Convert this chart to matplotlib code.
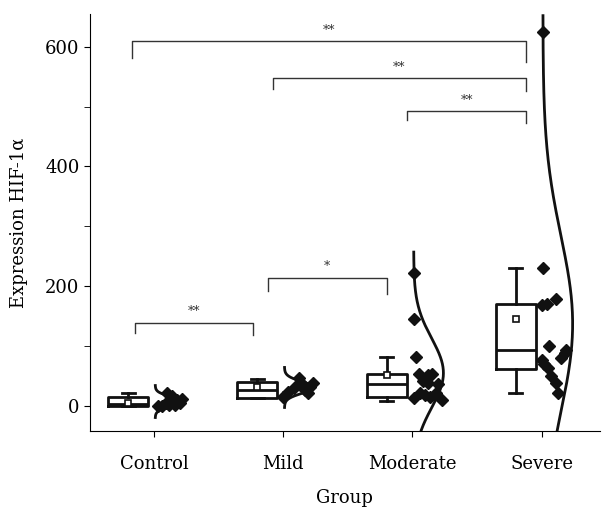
import numpy as np
import matplotlib
matplotlib.use('Agg')
import matplotlib.pyplot as plt

# Datos
groups = ['Control', 'Mild', 'Moderate', 'Severe']

control_vals = [0, 5, 22, 17, 10, 5, 2, 0, 12, 1]
mild_vals = [15, 23, 30, 47, 35, 27, 32, 22, 40, 38]
moderate_vals = [222, 146, 82, 53, 52, 53, 42, 38, 37, 13, 22, 18, 15, 22, 10]
severe_vals = [624, 231, 169, 171, 179, 100, 77, 70, 63, 50, 38, 22, 80, 89, 94]

# desplazamiento horizontal de cada punto (jitter)
control_jit = [0.03, 0.09, 0.10, 0.14, 0.18, 0.20, 0.16, 0.06, 0.22, 0.12]
mild_jit = [0.00, 0.04, 0.08, 0.12, 0.15, 0.17, 0.21, 0.19, 0.13, 0.23]
moderate_jit = [0.01, 0.01, 0.03, 0.05, 0.12, 0.15, 0.08, 0.12, 0.20, 0.01, 0.06, 0.10, 0.14, 0.18, 0.23]
severe_jit = [0.01, 0.01, 0.00, 0.04, 0.11, 0.06, 0.00, 0.02, 0.05, 0.07, 0.11, 0.13, 0.15, 0.18, 0.19]

# estadisticos de las cajas
box_q1 = [0, 13, 15, 62]
box_med = [3, 27, 37, 94]
box_q3 = [15, 40, 53, 170]
box_lo = [0, 13, 8, 22]
box_hi = [21, 45, 82, 231]
box_mean = [5, 32, 52, 146]

# comparaciones significativas
comp_x0 = [0.83, 1.92, 2.96, 0.85, 1.88]
comp_x1 = [3.88, 3.88, 3.88, 1.77, 2.80]
comp_y = [609, 547, 492, 139, 214]
comp_drop = [28, 17, 15, 17, 22]
comp_text = ['**', '**', '**', '**', '*']

all_vals = [control_vals, mild_vals, moderate_vals, severe_vals]
all_jit = [control_jit, mild_jit, moderate_jit, severe_jit]

plt.rcParams['font.family'] = ['DejaVu Serif']
fig = plt.figure(figsize=(6.04, 5.12), dpi=100)
ax = fig.add_axes([0.149, 0.158, 0.844, 0.815])

pos = np.arange(1, 5)

# cajas
stats = []
for i in range(4):
    stats.append({'q1': box_q1[i], 'med': box_med[i], 'q3': box_q3[i],
                  'whislo': box_lo[i], 'whishi': box_hi[i], 'mean': box_mean[i],
                  'fliers': []})
ax.bxp(stats, positions=pos - 0.2, widths=0.31, showmeans=True, showfliers=False,
       boxprops=dict(color='#111111', linewidth=2.0),
       medianprops=dict(color='#111111', linewidth=2.0),
       whiskerprops=dict(color='#111111', linewidth=2.0),
       capprops=dict(color='#111111', linewidth=2.0),
       meanprops=dict(marker='s', markerfacecolor='white', markeredgecolor='#111111',
                      markersize=4, markeredgewidth=1.2),
       capwidths=0.1, manage_ticks=False)

# puntos y curva normal
for i in range(4):
    vals = np.array(all_vals[i], dtype=float)
    ax.plot(pos[i] + np.array(all_jit[i]), vals, linestyle='none', marker='D',
            color='#111111', markersize=5.8, zorder=3)
    m = vals.mean()
    s = vals.std(ddof=1)
    yy = np.linspace(m - 3.5 * s, m + 3.5 * s, 300)
    dens = np.exp(-0.5 * ((yy - m) / s) ** 2)
    ax.plot(pos[i] + 0.01 + 0.23 * dens, yy, color='#111111', linewidth=2.0, zorder=2)

# corchetes de significancia
for x0, x1, y, d, t in zip(comp_x0, comp_x1, comp_y, comp_drop, comp_text):
    ax.plot([x0, x0, x1, x1], [y - d, y, y, y - d * 1.25], color='#333333', linewidth=1.0)
    ax.text((x0 + x1) / 2, y + 8, t, ha='center', va='bottom', fontsize=9, color='#333333')

ax.set_xlim(0.505, 4.45)
ax.set_ylim(-42, 655)
ax.set_xticks(pos)
ax.set_xticklabels(groups, fontsize=13)
ax.set_yticks([0, 200, 400, 600])
ax.set_yticks([100, 300, 500], minor=True)
ax.tick_params(axis='both', which='both', direction='out', length=4, labelsize=13)
ax.tick_params(axis='x', pad=13)
ax.spines['top'].set_visible(False)
ax.spines['right'].set_visible(False)
ax.set_xlabel('Group', fontsize=13, labelpad=12)
ax.set_ylabel('Expression HIF-1α', fontsize=13, labelpad=12)

fig.savefig('out.png', dpi=100)
